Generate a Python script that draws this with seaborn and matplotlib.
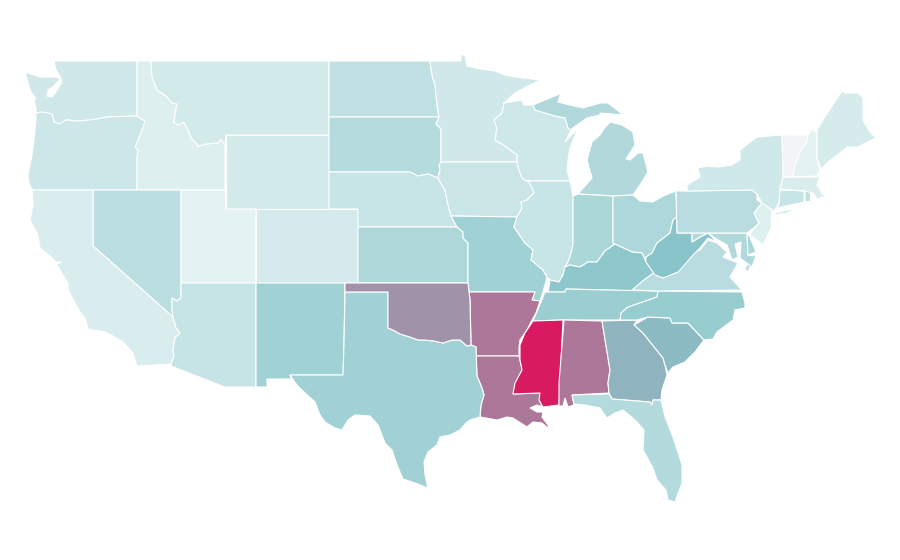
import matplotlib
matplotlib.use("Agg")
import matplotlib.pyplot as plt
import seaborn as sns

sns.set_theme(style="white")

# value per state, 0 = white, 1 = crimson, VT has no value
states = ["WA", "OR", "ID", "MT", "WY", "NV", "CA", "UT", "CO", "AZ", "NM", "ND", "SD", "NE", "KS", "MN",
          "IA", "MO", "AR", "LA", "TX", "OK", "WI", "IL", "MI", "IN", "OH", "KY", "TN", "MS", "AL", "GA",
          "SC", "NC", "FL", "VA", "WV", "MD", "DE", "PA", "NY", "NJ", "CT", "RI", "MA", "VT", "NH", "ME"]
values = [0.197, 0.214, 0.139, 0.185, 0.185, 0.286, 0.16, 0.113, 0.18, 0.24, 0.40, 0.265, 0.315, 0.235, 0.34, 0.197,
          0.23, 0.40, 0.73, 0.73, 0.395, 0.65, 0.21, 0.235, 0.33, 0.35, 0.345, 0.475, 0.425, 1.0, 0.73, 0.55,
          0.53, 0.43, 0.32, 0.30, 0.50, 0.33, 0.357, 0.30, 0.20, 0.134, 0.235, 0.265, 0.164, None, 0.11, 0.176]

# hand traced outlines, in pixels of the 900x560 picture
outlines = {
    "WA": [[(54,61),(137,61),(137,116),(108,117),(90,120),(78,121),(66,120),(60,124),(54,122),(52,114),(42,112),(36,113),(36,108),(34,100),(36,98),(31,92),(25,73),(28,73),(40,77),(56,77),(60,79),(54,86),(48,90),(47,96),(52,97),(56,92),(62,82),(60,76),(56,70)]],
    "OR": [[(36,113),(42,112),(52,114),(54,122),(60,124),(66,120),(78,121),(90,120),(108,117),(137,116),(145,121),(143,128),(138,140),(135,147),(138,150),(137,157),(137,190),(32,190),(29,183),(28,175),(32,155),(34,140),(36,118)]],
    "ID": [[(137,61),(151,61),(152,77),(157,90),(166,96),(172,103),(177,104),(175,115),(174,122),(178,125),(184,122),(188,130),(191,138),(195,142),(198,146),(206,144),(218,143),(221,139),(225,145),(225,190),(137,190),(137,157),(138,150),(135,147),(138,140),(143,128),(145,121),(137,116)]],
    "MT": [[(151,61),(329,61),(329,135),(226,135),(225,145),(221,139),(218,143),(206,144),(198,146),(195,142),(191,138),(188,130),(184,122),(178,125),(174,122),(175,115),(177,104),(172,103),(166,96),(157,90),(152,77)]],
    "WY": [[(226,135),(329,135),(329,209),(226,209)]],
    "UT": [[(181,190),(225,190),(226,209),(256,209),(256,283),(181,283)]],
    "CO": [[(256,209),(358,209),(358,283),(256,283)]],
    "NV": [[(93,190),(181,190),(181,298),(177,301),(172,298),(172,310),(173,317),(93,246)]],
    "CA": [[(32,190),(93,190),(93,246),(173,317),(176,328),(180,333),(175,338),(173,350),(174,356),(171,364),(137,366),(133,353),(123,342),(113,336),(105,332),(88,329),(85,318),(80,312),(68,290),(68,283),(60,270),(56,264),(62,262),(56,262),(50,256),(40,248),(38,235),(30,220),(33,205)]],
    "AZ": [[(181,283),(256,283),(256,387),(225,387),(171,366),(171,364),(174,356),(173,350),(175,338),(180,333),(176,328),(173,317),(172,310),(172,298),(177,301),(181,298)]],
    "NM": [[(256,283),(345,283),(344,344),(343,375),(290,375),(291,379),(267,379),(267,387),(256,387)]],
    "ND": [[(329,61),(430,61),(432,75),(435,85),(437,105),(439,117),(329,117)]],
    "SD": [[(329,117),(439,117),(436,124),(441,129),(441,162),(439,165),(440,170),(438,178),(428,174),(418,176),(410,172),(345,172),(329,172)]],
    "NE": [[(329,172),(345,172),(410,172),(418,176),(428,174),(438,178),(440,182),(445,190),(448,205),(451,216),(457,227),(358,227),(358,209),(329,209)]],
    "KS": [[(358,227),(457,227),(463,232),(463,238),(468,243),(468,283),(358,283)]],
    "MN": [[(430,61),(461,61),(461,55),(465,55),(467,66),(480,69),(495,71),(505,75),(515,77),(540,80),(530,85),(515,93),(504,103),(502,113),(494,120),(497,128),(495,140),(505,146),(517,155),(517,162),(441,162),(441,129),(436,124),(439,117),(437,105),(435,85),(432,75)]],
    "IA": [[(441,162),(517,162),(519,170),(522,178),(528,180),(532,188),(534,193),(527,200),(521,202),(522,208),(517,217),(451,216),(448,205),(445,190),(440,182),(438,178),(440,170),(439,165)]],
    "MO": [[(451,216),(517,217),(514,227),(525,243),(533,250),(531,260),(543,270),(547,277),(545,285),(541,298),(540,301),(532,300),(535,292),(469,292),(468,283),(468,243),(463,238),(463,232),(457,227)]],
    "AR": [[(469,292),(535,292),(532,300),(540,301),(536,313),(531,322),(527,330),(520,340),(519,347),(519,356),(476,356),(476,347),(471,345),(470,300)]],
    "LA": [[(476,356),(519,356),(521,365),(523,368),(519,377),(513,394),(540,393),(540,402),(543,407),(537,405),(530,408),(537,412),(543,412),(542,417),(548,425),(549,429),(542,423),(533,422),(527,427),(513,418),(507,417),(497,420),(480,417),(481,405),(484,395),(482,388),(477,376)]],
    "TX": [[(345,292),(388,292),(388,328),(395,331),(400,334),(410,337),(418,340),(425,340),(434,341),(443,343),(452,340),(460,340),(467,346),(471,345),(476,347),(477,376),(482,388),(484,395),(481,405),(480,417),(470,420),(465,424),(460,430),(450,435),(440,437),(437,445),(428,452),(424,462),(425,475),(428,488),(415,483),(403,479),(397,465),(392,450),(385,443),(378,425),(370,416),(355,415),(348,420),(342,430),(335,428),(325,422),(320,415),(315,402),(305,393),(297,385),(290,375),(343,375),(344,344)]],
    "OK": [[(345,283),(468,283),(469,292),(470,300),(471,345),(467,346),(460,340),(452,340),(443,343),(434,341),(425,340),(418,340),(410,337),(400,334),(395,331),(388,328),(388,292),(345,292)]],
    "WI": [[(504,103),(522,100),(524,105),(533,105),(535,110),(555,116),(565,118),(568,128),(571,130),(565,142),(578,128),(570,148),(568,160),(567,170),(570,181),(526,181),(522,178),(519,170),(517,162),(517,155),(505,146),(495,140),(497,128),(494,120),(502,113)]],
    "IL": [[(526,181),(570,181),(573,196),(573,245),(571,253),(568,262),(565,267),(563,275),(559,282),(550,280),(547,277),(543,270),(531,260),(533,250),(525,243),(514,227),(517,217),(522,208),(521,202),(527,200),(534,193),(532,188),(528,180)]],
    "MI": [[(578,194),(592,178),(587,160),(592,142),(600,135),(603,130),(610,122),(622,125),(633,132),(635,145),(626,159),(630,160),(638,153),(643,153),(648,172),(640,185),(633,195),(613,196)],
           [(533,105),(557,95),(568,90),(560,95),(558,102),(570,105),(583,108),(597,104),(600,103),(608,103),(617,110),(623,115),(612,114),(600,113),(600,115),(587,118),(577,125),(570,130),(568,128),(565,118),(555,116),(535,110)]],
    "IN": [[(573,196),(578,194),(613,196),(613,243),(615,244),(605,251),(597,262),(588,262),(580,267),(570,265),(565,267),(568,262),(571,253),(573,245)]],
    "OH": [[(613,196),(633,195),(640,201),(653,202),(663,196),(676,191),(677,217),(673,220),(670,233),(657,243),(652,253),(646,257),(646,262),(642,253),(632,252),(615,244),(613,243)]],
    "KY": [[(548,292),(565,292),(566,289),(606,290),(632,291),(644,280),(655,272),(646,262),(642,253),(632,252),(615,244),(605,251),(597,262),(588,262),(580,267),(570,265),(565,267),(563,275),(559,282),(550,280),(549,287)]],
    "TN": [[(541,302),(545,292),(565,292),(566,289),(606,290),(658,291),(657,297),(640,303),(628,307),(621,313),(620,320),(563,320),(533,321),(535,316)]],
    "MS": [[(533,321),(563,320),(559,405),(543,407),(539,400),(540,393),(513,394),(515,383),(522,370),(520,360),(520,345),(525,333)]],
    "AL": [[(564,320),(602,321),(610,370),(608,383),(609,393),(572,395),(574,405),(568,407),(565,398),(563,406),(559,406),(559,383)]],
    "GA": [[(602,321),(637,320),(634,325),(643,333),(655,348),(663,358),(665,365),(667,375),(662,390),(661,400),(653,400),(652,405),(650,402),(637,401),(612,399),(609,393),(608,383),(610,370)]],
    "SC": [[(634,325),(648,317),(670,318),(672,323),(688,323),(704,340),(695,352),(685,362),(673,367),(668,373),(665,365),(663,358),(655,348),(643,333)]],
    "NC": [[(658,291),(742,292),(745,303),(745,308),(735,310),(733,320),(717,332),(713,339),(704,340),(688,323),(672,323),(670,318),(648,317),(637,320),(620,320),(621,313),(628,307),(640,303),(657,297)]],
    "FL": [[(572,395),(609,394),(612,399),(637,401),(650,402),(652,405),(653,400),(661,400),(665,417),(673,437),(682,465),(682,483),(675,502),(668,500),(666,490),(657,480),(653,468),(643,450),(644,430),(635,420),(623,410),(615,413),(607,418),(600,408),(585,405),(574,404)]],
    "VA": [[(632,290),(644,280),(655,272),(663,278),(678,272),(691,253),(700,250),(708,240),(717,243),(727,252),(723,257),(738,263),(730,277),(742,290),(658,291)],
           [(745,268),(752,258),(754,260),(747,273)]],
    "WV": [[(677,217),(677,233),(692,233),(692,242),(700,237),(708,233),(717,242),(708,238),(700,248),(693,255),(680,270),(678,272),(663,278),(655,275),(646,262),(646,257),(652,253),(657,243),(670,233),(673,220)]],
    "MD": [[(692,233),(747,233),(748,255),(756,256),(752,267),(740,258),(741,242),(735,244),(738,257),(732,260),(727,245),(715,238),(708,233),(700,237),(692,242)]],
    "DE": [[(747,233),(750,237),(756,252),(748,255)]],
    "PA": [[(676,191),(687,191),(752,190),(757,194),(757,200),(762,203),(754,213),(759,223),(755,227),(747,233),(677,233)]],
    "NY": [[(687,191),(687,185),(700,177),(698,168),(707,166),(718,167),(732,165),(740,160),(740,150),(757,137),(782,135),(783,177),(780,190),(779,203),(775,210),(772,210),(762,203),(757,194),(752,190)],
           [(775,213),(797,208),(787,213),(775,215)]],
    "NJ": [[(762,203),(772,210),(771,220),(772,227),(763,245),(750,235),(755,227),(759,223),(754,213)]],
    "CT": [[(780,190),(804,191),(804,202),(778,208),(779,203)]],
    "RI": [[(805,191),(810,191),(811,201),(805,202)]],
    "MA": [[(783,177),(817,177),(820,175),(817,185),(823,195),(830,195),(817,199),(813,193),(805,191),(780,189)]],
    "VT": [[(782,135),(808,135),(807,142),(800,152),(795,165),(793,177),(783,177)]],
    "NH": [[(808,135),(811,130),(813,130),(817,133),(817,158),(820,170),(817,176),(793,177),(795,165),(800,152),(807,142)]],
    "ME": [[(817,130),(828,112),(842,91),(845,93),(858,93),(863,98),(863,120),(870,132),(876,138),(867,142),(858,147),(847,147),(840,153),(827,163),(821,169),(817,158),(817,133)]],
}

cmap = sns.blend_palette(["#ffffff", "#88c5c9", "#d81b60"], as_cmap=True)
no_data = "#f3f4f6"

fig, ax = plt.subplots(figsize=(9, 5.6), dpi=100)
fig.subplots_adjust(left=0, right=1, bottom=0, top=1)

for state, value in zip(states, values):
    color = no_data if value is None else cmap(value)
    for ring in outlines[state]:
        xs, ys = zip(*ring)
        ax.fill(xs, ys, facecolor=color, edgecolor="white", linewidth=0.8)

ax.set_xlim(0, 900)
ax.set_ylim(560, 0)
ax.axis("off")

fig.savefig("out.png", dpi=100, facecolor="white")
